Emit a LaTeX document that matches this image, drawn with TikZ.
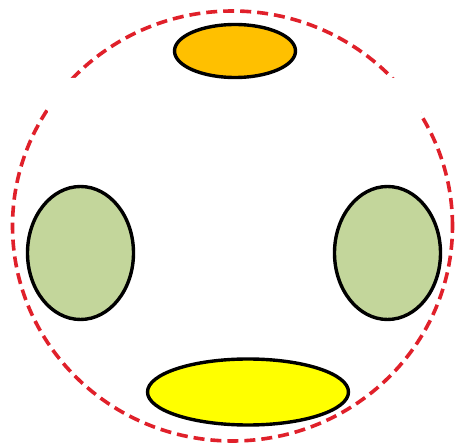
\documentclass[tikz,border=0pt]{standalone}
\usetikzlibrary{shapes.geometric}
\definecolor{dashred}{HTML}{E0202A}
\definecolor{orangefill}{HTML}{FFC000}
\definecolor{greenfill}{HTML}{C3D69B}
\definecolor{yellowfill}{HTML}{FFFF00}
\tikzset{
  blob/.style={ellipse, draw=black, line width=3.4pt, inner sep=0pt},
  patch/.style={fill=white, draw=none, rounded corners=14pt},
}
\begin{document}
\begin{tikzpicture}[x=1pt,y=-1pt]
\useasboundingbox[fill=white] (0,0) rectangle (458,446);
% dashed outer circle
\node[ellipse, draw=dashred, line width=3.6pt, dash pattern=on 11pt off 6pt,
      minimum width=440pt, minimum height=430pt, inner sep=0pt] (outer) at (232.5,226) {};
% white cover patches
\path[patch] (48,78) rectangle (120,154);
\path[patch] (347,78) rectangle (421,160);
% blobs
\node[blob, fill=orangefill, minimum width=121pt, minimum height=53pt] (top) at (235,51) {};
\node[blob, fill=greenfill, minimum width=106pt, minimum height=133pt] (left) at (80.5,253) {};
\node[blob, fill=greenfill, minimum width=106pt, minimum height=133pt] (right) at (387.5,253) {};
\node[blob, fill=yellowfill, minimum width=201pt, minimum height=66pt] (bottom) at (248,392) {};
\end{tikzpicture}
\end{document}
